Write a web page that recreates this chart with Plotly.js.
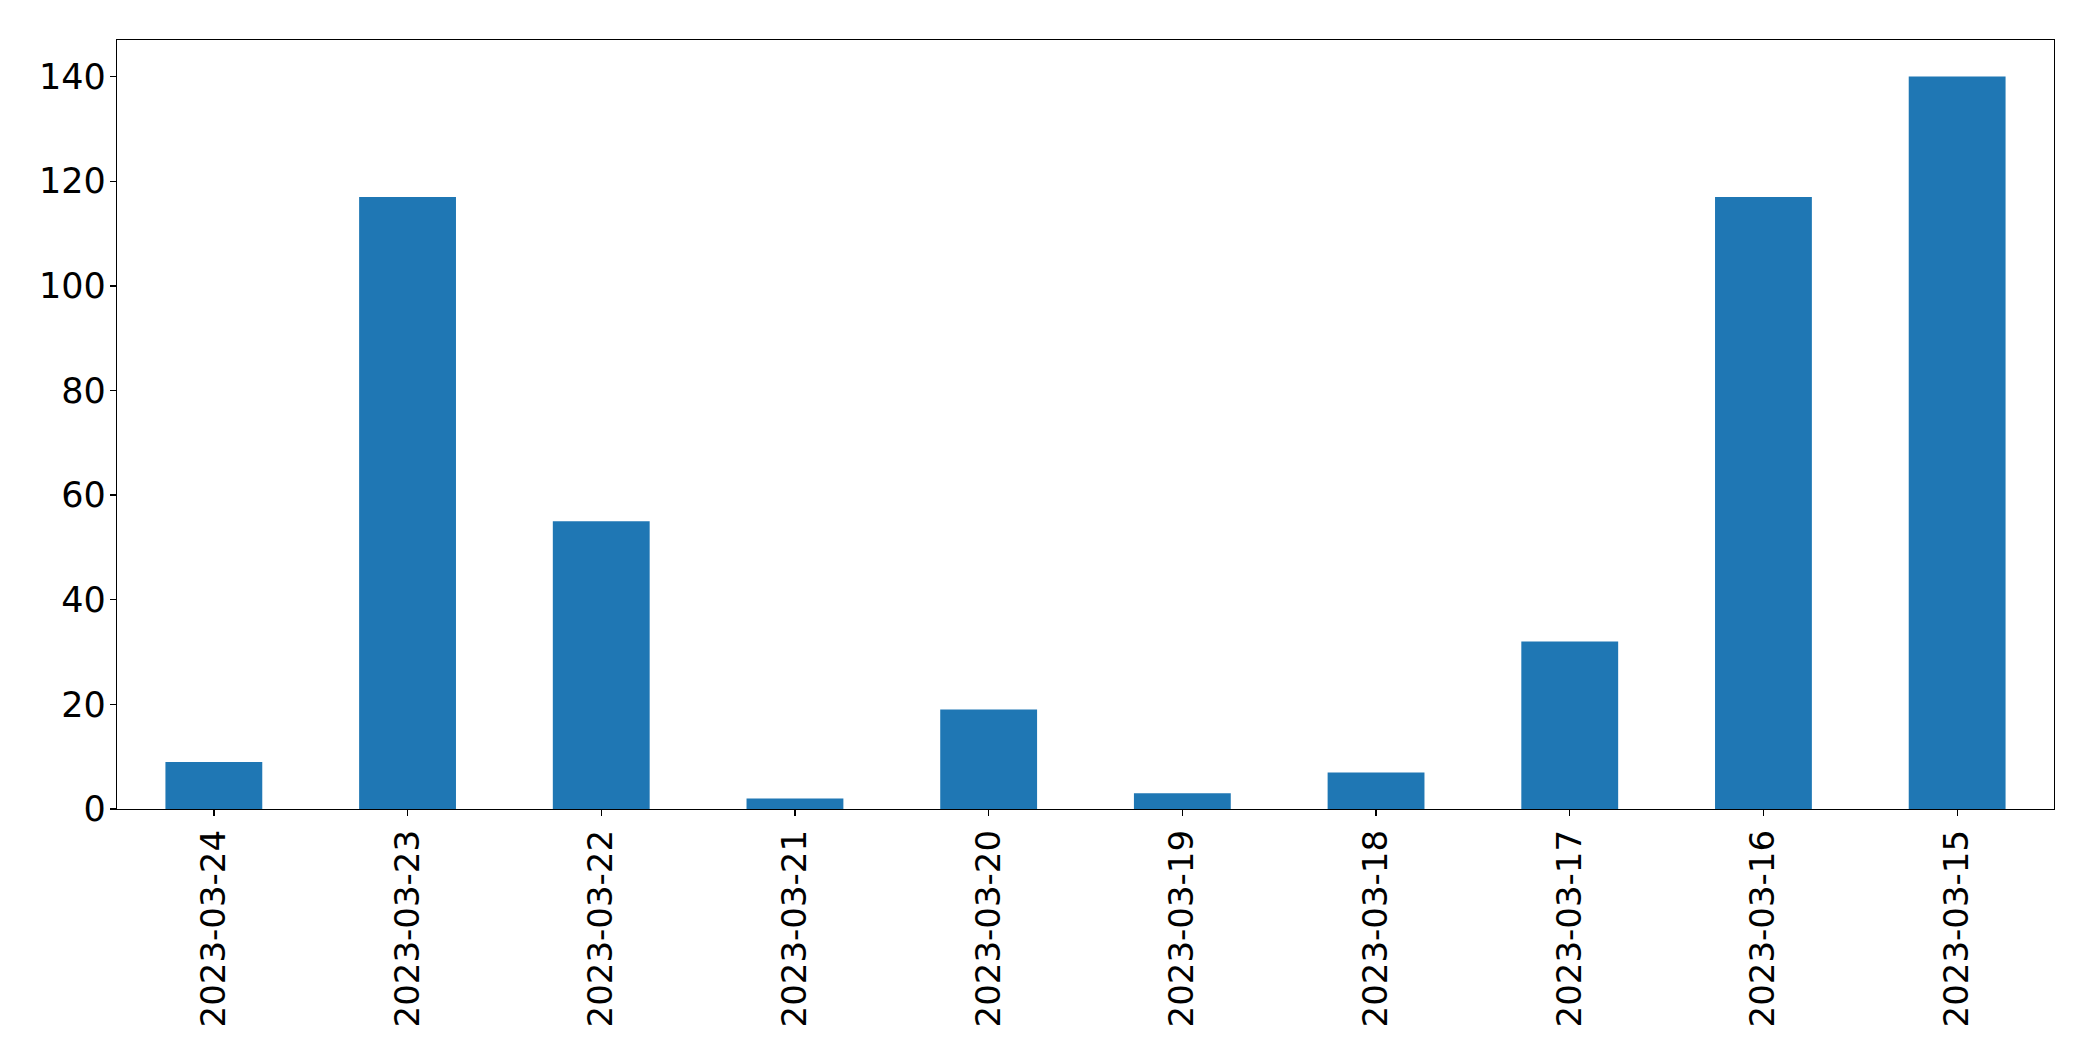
<!DOCTYPE html>
<html>
<head>
<meta charset="utf-8">
<script src="https://cdn.plot.ly/plotly-3.0.1.min.js"></script>
<style>html,body{margin:0;padding:0;background:#fff;}#chart{width:2093px;height:1061px;}</style>
</head>
<body>
<div id="chart"></div>
<script>
const dates = ["2023-03-24","2023-03-23","2023-03-22","2023-03-21","2023-03-20","2023-03-19","2023-03-18","2023-03-17","2023-03-16","2023-03-15"];
const counts = [9, 117, 55, 2, 19, 3, 7, 32, 117, 140];
const yTicks = [0, 20, 40, 60, 80, 100, 120, 140];

const trace = {
  type: "bar",
  x: dates,
  y: counts,
  width: 0.5,
  marker: {color: "#1f77b4", line: {width: 0}},
  hoverinfo: "x+y"
};

const xfont = {family: "DejaVu Sans, sans-serif", size: 34, color: "#000"};
const yfont = {family: "DejaVu Sans, sans-serif", size: 35, color: "#000"};

const layout = {
  width: 2093,
  height: 1061,
  margin: {l: 116.5, r: 39, t: 39.5, b: 251.5, pad: 0},
  paper_bgcolor: "#fff",
  plot_bgcolor: "#fff",
  showlegend: false,
  font: xfont,
  xaxis: {
    type: "category",
    range: [-0.5, 9.5],
    tickangle: -90,
    ticks: "outside",
    ticklen: 6,
    tickwidth: 1.3,
    tickcolor: "#000",
    showline: true,
    linecolor: "#000",
    linewidth: 1.3,
    mirror: true,
    showgrid: false,
    zeroline: false,
    tickfont: xfont
  },
  yaxis: {
    range: [0, 147],
    tickvals: yTicks,
    ticktext: yTicks.map(String),
    ticks: "outside",
    ticklen: 6,
    tickwidth: 1.3,
    tickcolor: "#000",
    ticklabelstandoff: -3,
    showline: true,
    linecolor: "#000",
    linewidth: 1.3,
    mirror: true,
    showgrid: false,
    zeroline: false,
    tickfont: yfont
  }
};

Plotly.newPlot("chart", [trace], layout, {staticPlot: true, displayModeBar: false});
</script>
</body>
</html>
